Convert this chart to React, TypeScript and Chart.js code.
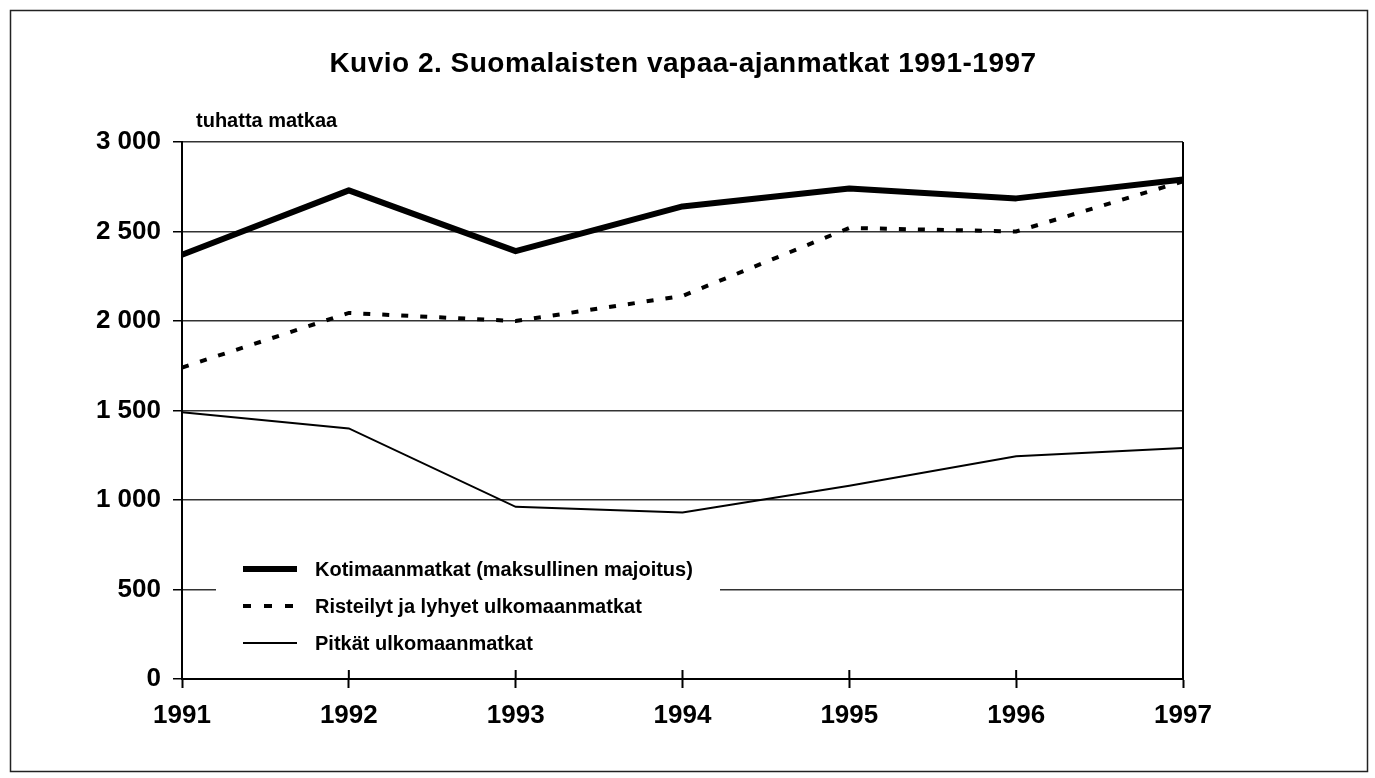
import React, { useEffect, useRef } from "react";
import { Chart, registerables } from "chart.js";

Chart.register(...registerables);

const TITLE = "Kuvio 2. Suomalaisten vapaa-ajanmatkat 1991-1997";
const UNIT_LABEL = "tuhatta matkaa";
const years = ["1991", "1992", "1993", "1994", "1995", "1996", "1997"];
const kotimaanmatkat = [2370, 2730, 2390, 2640, 2740, 2685, 2790];
const risteilyt = [1740, 2045, 2000, 2140, 2520, 2500, 2780];
const pitkat = [1490, 1400, 962, 930, 1080, 1245, 1290];
const seriesLabels = [
  "Kotimaanmatkat (maksullinen majoitus)",
  "Risteilyt ja lyhyet ulkomaanmatkat",
  "Pitkät ulkomaanmatkat",
];

const FONT = '"Liberation Sans", Arial, Helvetica, sans-serif';

const extrasPlugin = {
  id: "extras",
  afterDraw(chart: any) {
    const ctx = chart.ctx;
    const { right, top, bottom } = chart.chartArea;
    ctx.save();
    // outer frame
    ctx.strokeStyle = "#222";
    ctx.lineWidth = 1.5;
    ctx.strokeRect(10.5, 10.5, 1357, 761);
    // plot right border
    ctx.strokeStyle = "#000";
    ctx.lineWidth = 2;
    ctx.beginPath();
    ctx.moveTo(right, top);
    ctx.lineTo(right, bottom);
    ctx.stroke();
    // x ticks crossing inside
    const xs = chart.scales.x;
    for (let i = 0; i < years.length; i++) {
      const x = xs.getPixelForValue(i);
      ctx.beginPath();
      ctx.moveTo(x, bottom - 9);
      ctx.lineTo(x, bottom);
      ctx.stroke();
    }
    // title
    ctx.fillStyle = "#000";
    ctx.font = `bold 28px ${FONT}`;
    ctx.textAlign = "center";
    ctx.textBaseline = "alphabetic";
    (ctx as any).letterSpacing = "0.5px";
    ctx.fillText(TITLE, 683, 72);
    (ctx as any).letterSpacing = "0px";
    // unit label
    ctx.font = `bold 20px ${FONT}`;
    ctx.textAlign = "left";
    ctx.fillText(UNIT_LABEL, 196, 127);
    // legend
    ctx.fillStyle = "#fff";
    ctx.fillRect(216, 540, 504, 125);
    const rows = [569, 606, 643];
    chart.data.datasets.forEach((ds: any, i: number) => {
      const y = rows[i];
      ctx.strokeStyle = "#000";
      ctx.lineWidth = ds.borderWidth;
      ctx.setLineDash(i === 1 ? [8, 13] : []);
      ctx.lineCap = "butt";
      ctx.beginPath();
      ctx.moveTo(243, y);
      ctx.lineTo(297, y);
      ctx.stroke();
      ctx.setLineDash([]);
      ctx.fillStyle = "#000";
      ctx.font = `bold 20px ${FONT}`;
      ctx.textBaseline = "middle";
      ctx.fillText(ds.label, 315, y + 1);
    });
    ctx.restore();
  },
};

export default function App() {
  const ref = useRef<HTMLCanvasElement>(null);
  useEffect(() => {
    if (!ref.current) return;
    const chart = new Chart(ref.current, {
      type: "line",
      data: {
        labels: years,
        datasets: [
          {
            label: seriesLabels[0],
            data: kotimaanmatkat,
            borderColor: "#000",
            borderWidth: 6,
            pointRadius: 0,
            tension: 0,
            borderJoinStyle: "round",
          },
          {
            label: seriesLabels[1],
            data: risteilyt,
            borderColor: "#000",
            borderWidth: 4,
            borderDash: [7, 12],
            pointRadius: 0,
            tension: 0,
          },
          {
            label: seriesLabels[2],
            data: pitkat,
            borderColor: "#000",
            borderWidth: 2,
            pointRadius: 0,
            tension: 0,
          },
        ],
      },
      options: {
        responsive: false,
        animation: false,
        layout: { padding: { top: 142, left: 0, right: 192, bottom: 0 } },
        plugins: {
          legend: { display: false },
          title: { display: false },
          tooltip: { enabled: false },
        },
        scales: {
          x: {
            offset: false,
            afterFit(scale: any) {
              scale.height = 99;
            },
            grid: {
              drawOnChartArea: false,
              drawTicks: true,
              tickLength: 9,
              tickColor: "#000",
              tickWidth: 2,
            },
            border: { display: true, color: "#000", width: 2 },
            ticks: {
              color: "#000",
              padding: 12,
              maxRotation: 0,
              font: { family: FONT, size: 26, weight: "bold" },
            },
          },
          y: {
            min: 0,
            max: 3000,
            afterFit(scale: any) {
              scale.width = 182;
            },
            grid: {
              color: "#333",
              lineWidth: 1.5,
              tickLength: 9,
              tickColor: "#000",
              tickWidth: 1.5,
            },
            border: { display: true, color: "#000", width: 2 },
            ticks: {
              stepSize: 500,
              color: "#000",
              padding: 12,
              font: { family: FONT, size: 26, weight: "bold" },
              callback: (v: any) => {
                const n = Number(v);
                return n >= 1000
                  ? `${Math.floor(n / 1000)} ${String(n % 1000).padStart(3, "0")}`
                  : String(n);
              },
            },
          },
        },
      },
      plugins: [extrasPlugin],
    });
    return () => chart.destroy();
  }, []);
  return (
    <div style={{ position: "absolute", left: 0, top: 0, width: 1375, height: 778, background: "#fff" }}>
      <canvas ref={ref} width={1375} height={778} style={{ width: 1375, height: 778, display: "block" }} />
    </div>
  );
}
